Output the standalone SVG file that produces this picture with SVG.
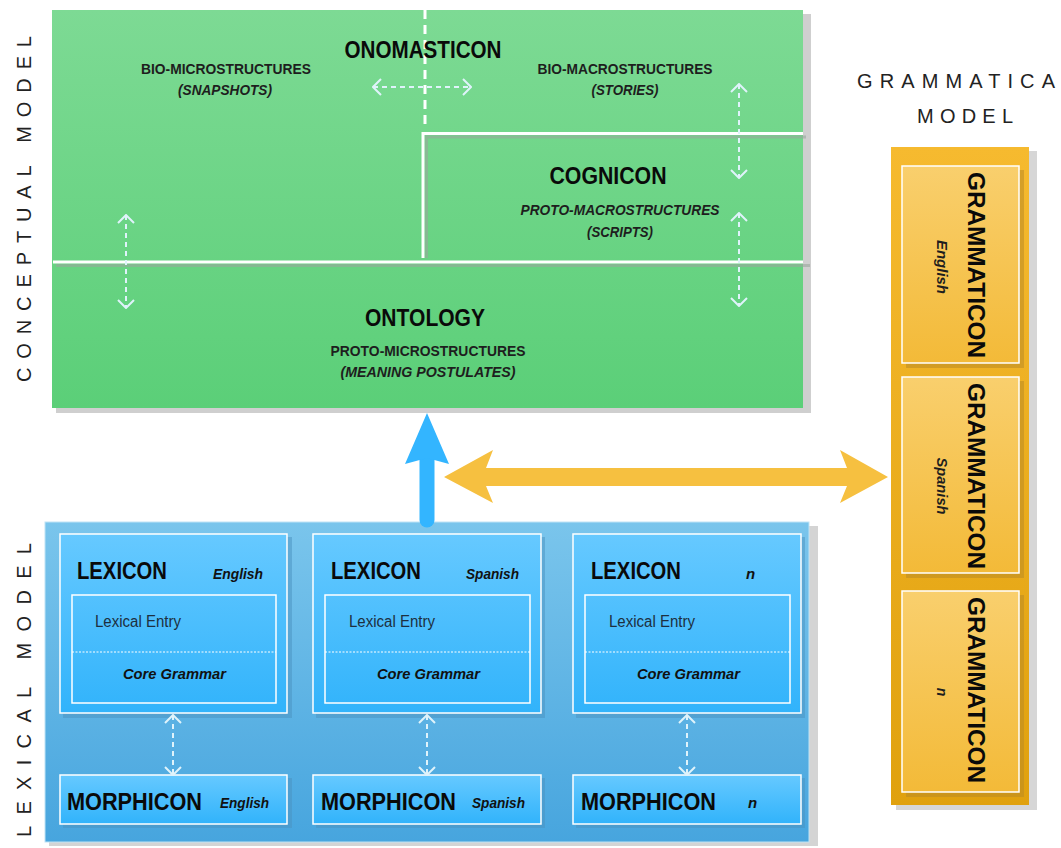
<svg xmlns="http://www.w3.org/2000/svg" width="1061" height="848" viewBox="0 0 1061 848">
<defs>
<linearGradient id="gGreen" x1="0" y1="0" x2="0" y2="1"><stop offset="0" stop-color="#7dda94"/><stop offset="1" stop-color="#5bcf78"/></linearGradient>
<linearGradient id="gBlueOuter" x1="0" y1="0" x2="0" y2="1"><stop offset="0" stop-color="#7ac5ec"/><stop offset="1" stop-color="#47a5de"/></linearGradient>
<linearGradient id="gBlueBox" x1="0" y1="0" x2="0" y2="1"><stop offset="0" stop-color="#66c9ff"/><stop offset="1" stop-color="#31b3fb"/></linearGradient>
<linearGradient id="gOrangeOuter" x1="0" y1="0" x2="0" y2="1"><stop offset="0" stop-color="#f6ba2f"/><stop offset="1" stop-color="#e0a10e"/></linearGradient>
<linearGradient id="gOrangeBox" x1="0" y1="0" x2="0" y2="1"><stop offset="0" stop-color="#f9cf6d"/><stop offset="1" stop-color="#f3ba38"/></linearGradient>
<marker id="chev" viewBox="0 0 10 18" markerWidth="10" markerHeight="18" refX="9" refY="9" orient="auto-start-reverse" markerUnits="userSpaceOnUse">
<path d="M1,1 L9,9 L1,17" fill="none" stroke="#dff3fb" stroke-width="2"/>
</marker>
</defs>
<style>
.lab{font-family:"Liberation Sans",Arial,sans-serif;fill:#1e1e1e}
.big{font-weight:bold;font-size:24px;fill:#0a0a0a}
.sub{font-size:15px;font-weight:bold;fill:#1e1e1e}
.subi{font-size:15px;font-weight:bold;font-style:italic;fill:#1e1e1e}
.lang{font-size:15px;font-weight:bold;font-style:italic;fill:#111}
.entry{font-size:16px;fill:#1d2f40}
.side{font-family:"Liberation Sans",Arial,sans-serif;font-size:20px;fill:#222}
.dash{stroke:#dff3fb;stroke-width:2;stroke-dasharray:5,4;fill:none;marker-start:url(#chev);marker-end:url(#chev)}
.wl{stroke:#ffffff;stroke-width:3;fill:none}
.sh{stroke:#9aa79c;stroke-opacity:0.6;stroke-width:3;fill:none}
.lbox{fill:url(#gBlueBox);stroke:#ffffff;stroke-width:1.5}
.lshadow{fill:#4a92c0;opacity:0.5}
.gbox{fill:url(#gOrangeBox);stroke:#ffffff;stroke-width:1.5}
.gshadow{fill:#b98a25;opacity:0.55}
</style>

<!-- side labels -->
<g id="labels">
<text class="side" transform="translate(31,209) rotate(-90)" text-anchor="middle" textLength="346" lengthAdjust="spacing">CONCEPTUAL MODEL</text>
<text class="side" transform="translate(31,690) rotate(-90)" text-anchor="middle" textLength="294" lengthAdjust="spacing">LEXICAL MODEL</text>
<text class="side" x="857" y="88" textLength="198" lengthAdjust="spacing">GRAMMATICA</text>
<text class="side" x="917" y="123" textLength="96" lengthAdjust="spacing">MODEL</text>
</g>

<!-- Conceptual model -->
<g id="conceptual">
<rect x="56" y="14" width="755" height="399" fill="#cfcfcf"/>
<rect x="52" y="10" width="751" height="398" fill="url(#gGreen)"/>
</g>

<g id="onomasticon">
<line x1="425" y1="10" x2="425" y2="128" stroke="#ffffff" stroke-width="3" stroke-dasharray="9,6"/>
<text class="lab big" x="423" y="58" text-anchor="middle" textLength="157" lengthAdjust="spacingAndGlyphs">ONOMASTICON</text>
<text class="lab sub" x="226" y="74" text-anchor="middle" textLength="170" lengthAdjust="spacingAndGlyphs">BIO-MICROSTRUCTURES</text>
<text class="lab subi" x="225" y="95" text-anchor="middle" textLength="94" lengthAdjust="spacingAndGlyphs">(SNAPSHOTS)</text>
<text class="lab sub" x="625" y="74" text-anchor="middle" textLength="175" lengthAdjust="spacingAndGlyphs">BIO-MACROSTRUCTURES</text>
<text class="lab subi" x="625" y="95" text-anchor="middle" textLength="67" lengthAdjust="spacingAndGlyphs">(STORIES)</text>
</g>

<g id="cognicon">
<path class="sh" d="M426.5,258 V137 H806"/>
<path class="wl" d="M423,258 V133.5 H803"/>
<text class="lab big" x="608" y="184" text-anchor="middle" textLength="117" lengthAdjust="spacingAndGlyphs">COGNICON</text>
<text class="lab subi" x="620" y="215" text-anchor="middle" textLength="199" lengthAdjust="spacingAndGlyphs">PROTO-MACROSTRUCTURES</text>
<text class="lab subi" x="620" y="237" text-anchor="middle" textLength="66" lengthAdjust="spacingAndGlyphs">(SCRIPTS)</text>
</g>

<g id="ontology">
<line class="sh" x1="56" y1="265.5" x2="810" y2="265.5"/>
<line class="wl" x1="53" y1="262" x2="803" y2="262"/>
<text class="lab big" x="425" y="326" text-anchor="middle" textLength="120" lengthAdjust="spacingAndGlyphs">ONTOLOGY</text>
<text class="lab sub" x="428" y="356" text-anchor="middle" textLength="195" lengthAdjust="spacingAndGlyphs">PROTO-MICROSTRUCTURES</text>
<text class="lab subi" x="428" y="377" text-anchor="middle" textLength="175" lengthAdjust="spacingAndGlyphs">(MEANING POSTULATES)</text>
</g>

<!-- Grammatical model -->
<g id="grammatical">
<rect x="896" y="151" width="141" height="659" fill="#d6d6d6"/>
<rect x="891" y="147" width="138" height="658" fill="url(#gOrangeOuter)"/>
</g>
<g id="grammaticon-english">
<rect class="gshadow" x="906" y="170" width="118" height="198"/>
<rect class="gbox" x="902" y="166" width="117" height="197"/>
<text class="lab big" transform="translate(968,265) rotate(90)" text-anchor="middle" textLength="186" lengthAdjust="spacingAndGlyphs">GRAMMATICON</text>
<text class="lab" transform="translate(937,267) rotate(90)" text-anchor="middle" font-size="14" font-style="italic" font-weight="bold" fill="#111" textLength="54" lengthAdjust="spacingAndGlyphs">English</text>
</g>
<g id="grammaticon-spanish">
<rect class="gshadow" x="906" y="381" width="118" height="197"/>
<rect class="gbox" x="902" y="377" width="117" height="196"/>
<text class="lab big" transform="translate(968,476) rotate(90)" text-anchor="middle" textLength="186" lengthAdjust="spacingAndGlyphs">GRAMMATICON</text>
<text class="lab" transform="translate(937,486) rotate(90)" text-anchor="middle" font-size="14" font-style="italic" font-weight="bold" fill="#111" textLength="57" lengthAdjust="spacingAndGlyphs">Spanish</text>
</g>
<g id="grammaticon-n">
<rect class="gshadow" x="906" y="595" width="118" height="202"/>
<rect class="gbox" x="902" y="591" width="117" height="201"/>
<text class="lab big" transform="translate(968,690) rotate(90)" text-anchor="middle" textLength="186" lengthAdjust="spacingAndGlyphs">GRAMMATICON</text>
<text class="lab" transform="translate(937,692) rotate(90)" text-anchor="middle" font-size="14" font-style="italic" font-weight="bold" fill="#111">n</text>
</g>

<!-- Lexical model -->
<g id="lexical">
<rect x="49" y="526" width="769" height="320" fill="#d4d4d4"/>
<rect x="45" y="522" width="764" height="320" fill="url(#gBlueOuter)" stroke="#bfe3f5" stroke-width="1"/>
</g>

<g id="lexicon-english">
<rect class="lshadow" x="63" y="537" width="229" height="181"/>
<rect class="lbox" x="60" y="534" width="227" height="179"/>
<rect class="lbox" x="72" y="595" width="204" height="108" style="fill:none"/>
<line x1="72" y1="652" x2="276" y2="652" stroke="#ffffff" stroke-width="1" stroke-dasharray="2,1.5"/>
<text class="lab big" x="77" y="579" textLength="90" lengthAdjust="spacingAndGlyphs">LEXICON</text>
<text class="lab lang" x="213" y="579" textLength="50" lengthAdjust="spacingAndGlyphs">English</text>
<text class="lab entry" x="95" y="627" textLength="86" lengthAdjust="spacingAndGlyphs">Lexical Entry</text>
<text class="lab lang" x="123" y="679" textLength="103" lengthAdjust="spacingAndGlyphs">Core Grammar</text>
</g>
<g id="lexicon-spanish">
<rect class="lshadow" x="316" y="537" width="229" height="181"/>
<rect class="lbox" x="313" y="534" width="228" height="179"/>
<rect class="lbox" x="325" y="595" width="205" height="108" style="fill:none"/>
<line x1="325" y1="652" x2="530" y2="652" stroke="#ffffff" stroke-width="1" stroke-dasharray="2,1.5"/>
<text class="lab big" x="331" y="579" textLength="90" lengthAdjust="spacingAndGlyphs">LEXICON</text>
<text class="lab lang" x="466" y="579" textLength="53" lengthAdjust="spacingAndGlyphs">Spanish</text>
<text class="lab entry" x="349" y="627" textLength="86" lengthAdjust="spacingAndGlyphs">Lexical Entry</text>
<text class="lab lang" x="377" y="679" textLength="103" lengthAdjust="spacingAndGlyphs">Core Grammar</text>
</g>
<g id="lexicon-n">
<rect class="lshadow" x="576" y="537" width="229" height="181"/>
<rect class="lbox" x="573" y="534" width="228" height="179"/>
<rect class="lbox" x="585" y="595" width="205" height="108" style="fill:none"/>
<line x1="585" y1="652" x2="790" y2="652" stroke="#ffffff" stroke-width="1" stroke-dasharray="2,1.5"/>
<text class="lab big" x="591" y="579" textLength="90" lengthAdjust="spacingAndGlyphs">LEXICON</text>
<text class="lab lang" x="746" y="579">n</text>
<text class="lab entry" x="609" y="627" textLength="86" lengthAdjust="spacingAndGlyphs">Lexical Entry</text>
<text class="lab lang" x="637" y="679" textLength="103" lengthAdjust="spacingAndGlyphs">Core Grammar</text>
</g>

<g id="morphicon-english">
<rect class="lshadow" x="63" y="778" width="229" height="50"/>
<rect class="lbox" x="60" y="775" width="227" height="49"/>
<text class="lab big" x="67" y="810" textLength="135" lengthAdjust="spacingAndGlyphs">MORPHICON</text>
<text class="lab lang" x="220" y="808" textLength="49" lengthAdjust="spacingAndGlyphs">English</text>
</g>
<g id="morphicon-spanish">
<rect class="lshadow" x="316" y="778" width="229" height="50"/>
<rect class="lbox" x="313" y="775" width="228" height="49"/>
<text class="lab big" x="321" y="810" textLength="135" lengthAdjust="spacingAndGlyphs">MORPHICON</text>
<text class="lab lang" x="472" y="808" textLength="53" lengthAdjust="spacingAndGlyphs">Spanish</text>
</g>
<g id="morphicon-n">
<rect class="lshadow" x="576" y="778" width="229" height="50"/>
<rect class="lbox" x="573" y="775" width="228" height="49"/>
<text class="lab big" x="581" y="810" textLength="135" lengthAdjust="spacingAndGlyphs">MORPHICON</text>
<text class="lab lang" x="748" y="808">n</text>
</g>

<!-- connectors -->
<g id="connectors">
<line class="dash" x1="373" y1="87" x2="471" y2="87"/>
<line class="dash" x1="739" y1="84" x2="739" y2="178"/>
<line class="dash" x1="739" y1="213" x2="739" y2="306"/>
<line class="dash" x1="126" y1="215" x2="126" y2="308"/>
<line class="dash" x1="173" y1="715" x2="173" y2="775"/>
<line class="dash" x1="427" y1="715" x2="427" y2="775"/>
<line class="dash" x1="687" y1="715" x2="687" y2="775"/>
<line x1="427" y1="520" x2="427" y2="455" stroke="#33b5ff" stroke-width="15" stroke-linecap="round"/>
<polygon points="427,413 449,464 427,458 405,464" fill="#33b5ff"/>
<polygon points="444,477 493,450 486,468 847,468 840,450 888,477 840,503 847,486 486,486 493,503" fill="#f6c040"/>
</g>
</svg>
